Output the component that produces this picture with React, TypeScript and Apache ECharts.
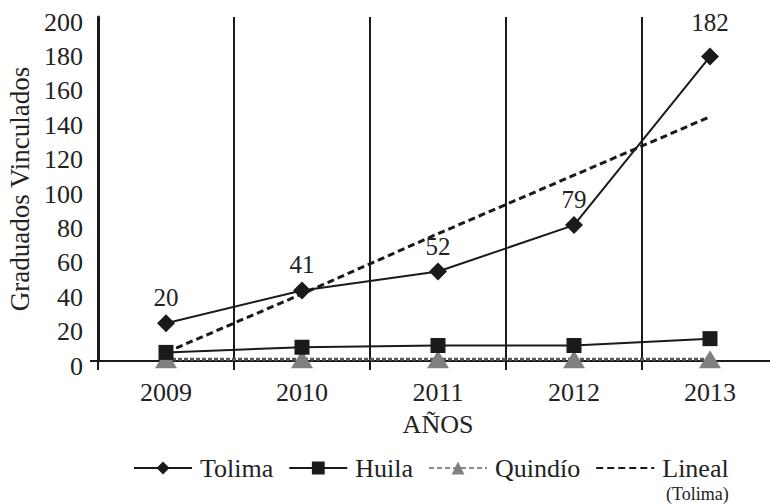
import React, { useEffect, useRef } from "react";
import * as echarts from "echarts";

const years = ["2009", "2010", "2011", "2012", "2013"];
const tolima = [22, 41, 52, 79, 177];
const tolimaLabels = ["20", "41", "52", "79", "182"];
const huila = [5, 8, 9, 9, 13];
const quindio = [1, 1, 1, 1, 1];
const linealTolima = [5, 39, 74, 108, 142];

const FONT = "Liberation Serif";
const TXT = "#222";

export default function App() {
  const ref = useRef<HTMLDivElement>(null);
  useEffect(() => {
    if (!ref.current) return;
    const chart = echarts.init(ref.current, null, { renderer: "svg" });
    const option: any = {
      animation: false,
      backgroundColor: "#fff",
      textStyle: { fontFamily: FONT, color: TXT },
      grid: { left: 98, right: -8, top: 17, bottom: 143, containLabel: false, outerBoundsMode: "none" },
      xAxis: {
        type: "category",
        data: years,
        boundaryGap: true,
        name: "AÑOS",
        nameLocation: "middle",
        nameGap: 50,
        nameTextStyle: { fontSize: 26, color: TXT, fontFamily: FONT },
        axisLine: { show: true, lineStyle: { color: "#1a1a1a", width: 2 } },
        axisTick: { show: true, alignWithLabel: false, length: 9, lineStyle: { color: "#1a1a1a", width: 2 } },
        splitLine: { show: true, lineStyle: { color: "#1a1a1a", width: 2 } },
        axisLabel: { fontSize: 26, color: TXT, fontFamily: FONT, margin: 18 },
      },
      yAxis: {
        type: "value",
        min: 0,
        max: 200,
        interval: 20,
        name: "Graduados Vinculados",
        nameLocation: "middle",
        nameGap: 64,
        nameRotate: 90,
        nameTextStyle: { fontSize: 27, color: TXT, fontFamily: FONT },
        axisLine: { show: true, lineStyle: { color: "#1a1a1a", width: 3 } },
        axisTick: { show: false },
        splitLine: { show: false },
        axisLabel: {
          color: TXT,
          fontFamily: FONT,
          margin: 15,
          formatter: (v: number) => `{a|${v}}`,
          rich: { a: { fontSize: 26, fontFamily: FONT, color: TXT, padding: [10, 0, 0, 0] } },
        },
      },
      legend: {
        left: 128,
        top: 450,
        itemWidth: 58,
        itemHeight: 16,
        itemGap: 15,
        textStyle: { fontSize: 26, color: TXT, fontFamily: FONT, padding: [0, 0, 0, 3] },
        data: [
          { name: "Tolima" },
          { name: "Huila" },
          { name: "Quindío", lineStyle: { color: "#8a8a8a", width: 2, type: [5, 3] } },
          { name: "Lineal", itemStyle: { opacity: 0 } },
        ],
      },
      series: [
        {
          name: "Quindío",
          type: "line",
          data: quindio,
          symbol: "triangle",
          symbolSize: [22, 18],
          itemStyle: { color: "#808080" },
          lineStyle: { color: "#5a5a5a", width: 3, type: [4, 2] },
          z: 2,
        },
        {
          name: "Lineal",
          type: "line",
          data: linealTolima,
          symbol: "none",
          itemStyle: { color: "#1a1a1a" },
          lineStyle: { color: "#1a1a1a", width: 3, type: [7, 4] },
          z: 3,
        },
        {
          name: "Huila",
          type: "line",
          data: huila,
          symbol: "rect",
          symbolSize: 15,
          itemStyle: { color: "#1a1a1a" },
          lineStyle: { color: "#1a1a1a", width: 2 },
          z: 4,
        },
        {
          name: "Tolima",
          type: "line",
          data: tolima.map((v, i) => ({
            value: v,
            label: {
              show: true,
              position: "top",
              distance: i === 4 ? 13 : 4,
              formatter: () => tolimaLabels[i],
              fontSize: 25,
              color: TXT,
              fontFamily: FONT,
            },
          })),
          symbol: "diamond",
          symbolSize: 18,
          itemStyle: { color: "#1a1a1a" },
          lineStyle: { color: "#1a1a1a", width: 2 },
          z: 5,
        },
      ],
    };
    chart.setOption(option);
    const y0 = chart.convertToPixel({ yAxisIndex: 0 }, 0) as number;
    chart.setOption({
      graphic: [
        {
          type: "text",
          left: 666,
          top: 485,
          style: { text: "(Tolima)", fontSize: 18, fill: TXT, fontFamily: FONT },
        },
        {
          type: "line",
          shape: { x1: 90, y1: y0, x2: 98, y2: y0 },
          style: { stroke: "#1a1a1a", lineWidth: 2 },
        },
      ],
    });
    return () => chart.dispose();
  }, []);
  return <div ref={ref} style={{ width: 770, height: 504, position: "absolute", left: 0, top: 0 }} />;
}
